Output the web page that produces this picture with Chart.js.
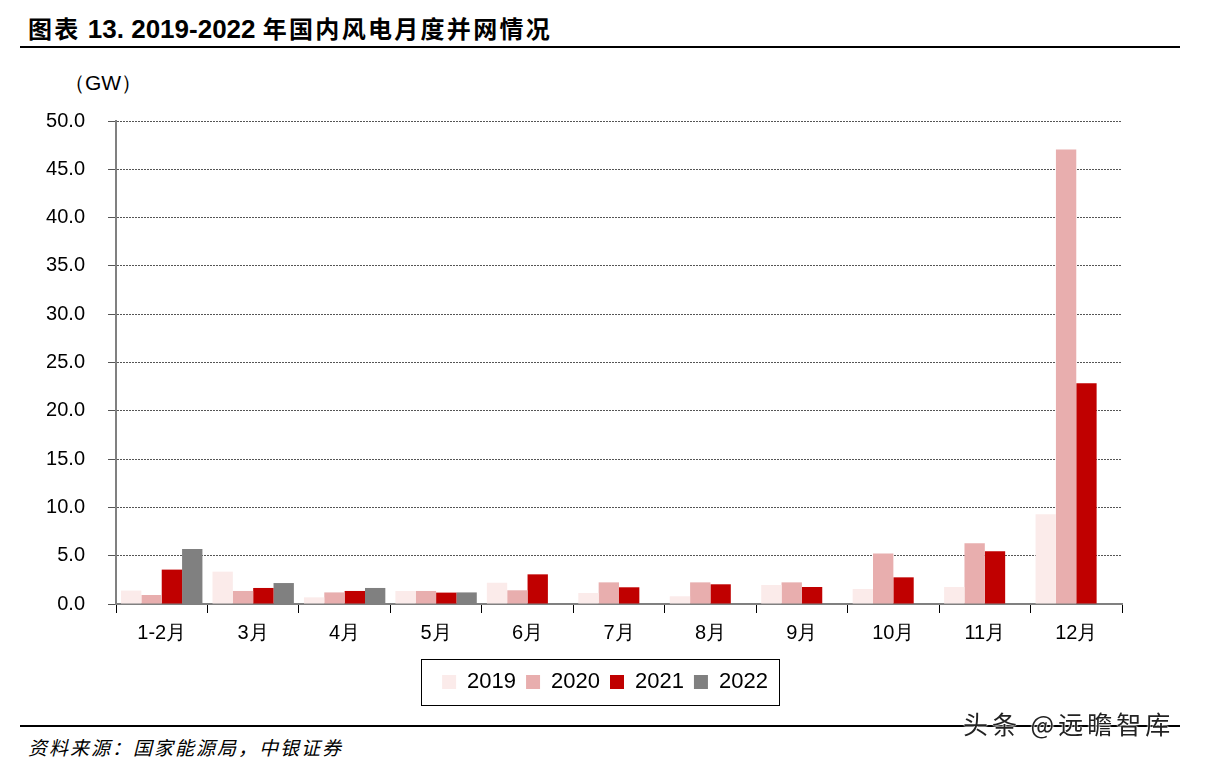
<!DOCTYPE html>
<html>
<head>
    <meta charset="utf-8">
    <title>2019-2022年国内风电月度并网情况</title>
    <script src="https://cdn.jsdelivr.net/npm/chart.js"></script>
    <style>
        body { margin: 0; width: 1210px; height: 766px; background: #fff; position: relative; overflow: hidden; font-family: "Liberation Sans", Arial, sans-serif; }
        #title { position: absolute; left: 28px; top: 10px; font-size: 26px; font-weight: bold; color: #000; white-space: nowrap; }
        #title .cn { font-family: "Noto Sans CJK SC", sans-serif; font-weight: bold; font-size: 24px; letter-spacing: 2.3px; }
        .rule { position: absolute; left: 20px; width: 1160px; height: 2px; background: #000; }
        #unit { position: absolute; left: 64px; top: 69px; font-size: 21px; color: #000; }
        #wrap { position: absolute; left: 0; top: 60px; width: 1210px; height: 655px; }
        #source { position: absolute; left: 28px; top: 733px; font-family: "Noto Sans CJK SC", sans-serif; font-style: italic; font-size: 19px; letter-spacing: 2px; color: #000; }
        #mark { position: absolute; left: 963px; top: 705px; font-family: "Noto Sans CJK SC", sans-serif; font-size: 25px; letter-spacing: 4px; color: #222; text-shadow: 0 0 2px #fff, 0 0 2px #fff, 0 0 1px #fff; }
    </style>
</head>
<body>
    <div id="title"><span class="cn">图表</span> 13. 2019-2022 <span class="cn">年国内风电月度并网情况</span></div>
    <div class="rule" style="top:46px"></div>
    <div id="unit">（GW）</div>
    <div id="wrap"><canvas id="figure"></canvas></div>
    <div class="rule" style="top:725px"></div>
    <div id="source">资料来源：国家能源局，中银证券</div>
    <div id="mark">头条 @远瞻智库</div>

    <script>
        // months on the x axis
        var months = ['1-2月', '3月', '4月', '5月', '6月', '7月', '8月', '9月', '10月', '11月', '12月'];
        var years = ['2019', '2020', '2021', '2022'];
        var colors = ['#FBEBEA', '#E8AEAE', '#C00000', '#808080'];

        // monthly grid-connected wind capacity, GW
        var v2019 = [1.39, 3.35, 0.69, 1.35, 2.20, 1.14, 0.80, 1.97, 1.55, 1.76, 9.29];
        var v2020 = [0.93, 1.35, 1.20, 1.35, 1.42, 2.24, 2.24, 2.24, 5.22, 6.28, 47.06];
        var v2021 = [3.56, 1.66, 1.35, 1.18, 3.07, 1.73, 2.04, 1.76, 2.76, 5.45, 22.85];
        var v2022 = [5.70, 2.17, 1.66, 1.20, null, null, null, null, null, null, null];

        var yMax = 50;
        var yStep = 5;

        var series = [v2019, v2020, v2021, v2022];
        var datasets = series.map(function (vals, i) {
            return {
                label: years[i],
                data: vals,
                backgroundColor: colors[i],
                borderWidth: 0,
                categoryPercentage: 0.89,
                barPercentage: 1.0
            };
        });

        // legend centred on the whole page, with a box round it
        var legendBox = {
            id: 'legendBox',
            afterLayout: function (chart) {
                var lg = chart.legend;
                lg.left = 0;
                lg.right = chart.width;
                lg.width = chart.width;
            },
            afterDraw: function (chart) {
                var boxes = chart.legend.legendHitBoxes;
                if (!boxes || !boxes.length) return;
                var l = boxes[0].left, r = boxes[boxes.length - 1].left + boxes[boxes.length - 1].width;
                var t = boxes[0].top, b = boxes[0].top + boxes[0].height;
                var ctx = chart.ctx;
                ctx.save();
                ctx.strokeStyle = '#000';
                ctx.lineWidth = 1;
                ctx.strokeRect(Math.round(l - 21) + 0.5, Math.round(t - 12) + 0.5, Math.round(r - l + 32), Math.round(b - t + 24));
                ctx.restore();
            }
        };

        var ctx = document.getElementById('figure').getContext('2d');
        new Chart(ctx, {
            type: 'bar',
            data: { labels: months, datasets: datasets },
            plugins: [legendBox],
            options: {
                responsive: true,
                maintainAspectRatio: false,
                animation: false,
                layout: { padding: { left: 0, right: 88, top: 61, bottom: 12 } },
                plugins: {
                    tooltip: { enabled: false },
                    legend: {
                        position: 'bottom',
                        labels: {
                            color: '#000',
                            font: { family: 'Liberation Sans', size: 22 },
                            boxWidth: 14,
                            boxHeight: 14,
                            padding: 10
                        }
                    }
                },
                scales: {
                    x: {
                        grid: {
                            offset: true,
                            drawOnChartArea: false,
                            drawTicks: true,
                            tickLength: 9,
                            tickColor: '#000',
                            color: '#000'
                        },
                        border: { color: '#808080', width: 2 },
                        ticks: {
                            color: '#000',
                            font: { family: 'Liberation Sans', size: 20 },
                            padding: 8,
                            maxRotation: 0
                        },
                        afterFit: function (scale) { scale.height = 57; }
                    },
                    y: {
                        min: 0,
                        max: yMax,
                        ticks: {
                            stepSize: yStep,
                            color: '#000',
                            font: { family: 'Liberation Sans', size: 20 },
                            padding: 23,
                            callback: function (v) { return v.toFixed(1); }
                        },
                        grid: {
                            color: '#555',
                            lineWidth: 1,
                            drawTicks: true,
                            tickLength: 8,
                            tickColor: '#555'
                        },
                        border: { color: '#808080', width: 2, dash: [2, 1] },
                        afterFit: function (scale) { scale.width = 116; }
                    }
                }
            }
        });
    </script>
</body>
</html>
